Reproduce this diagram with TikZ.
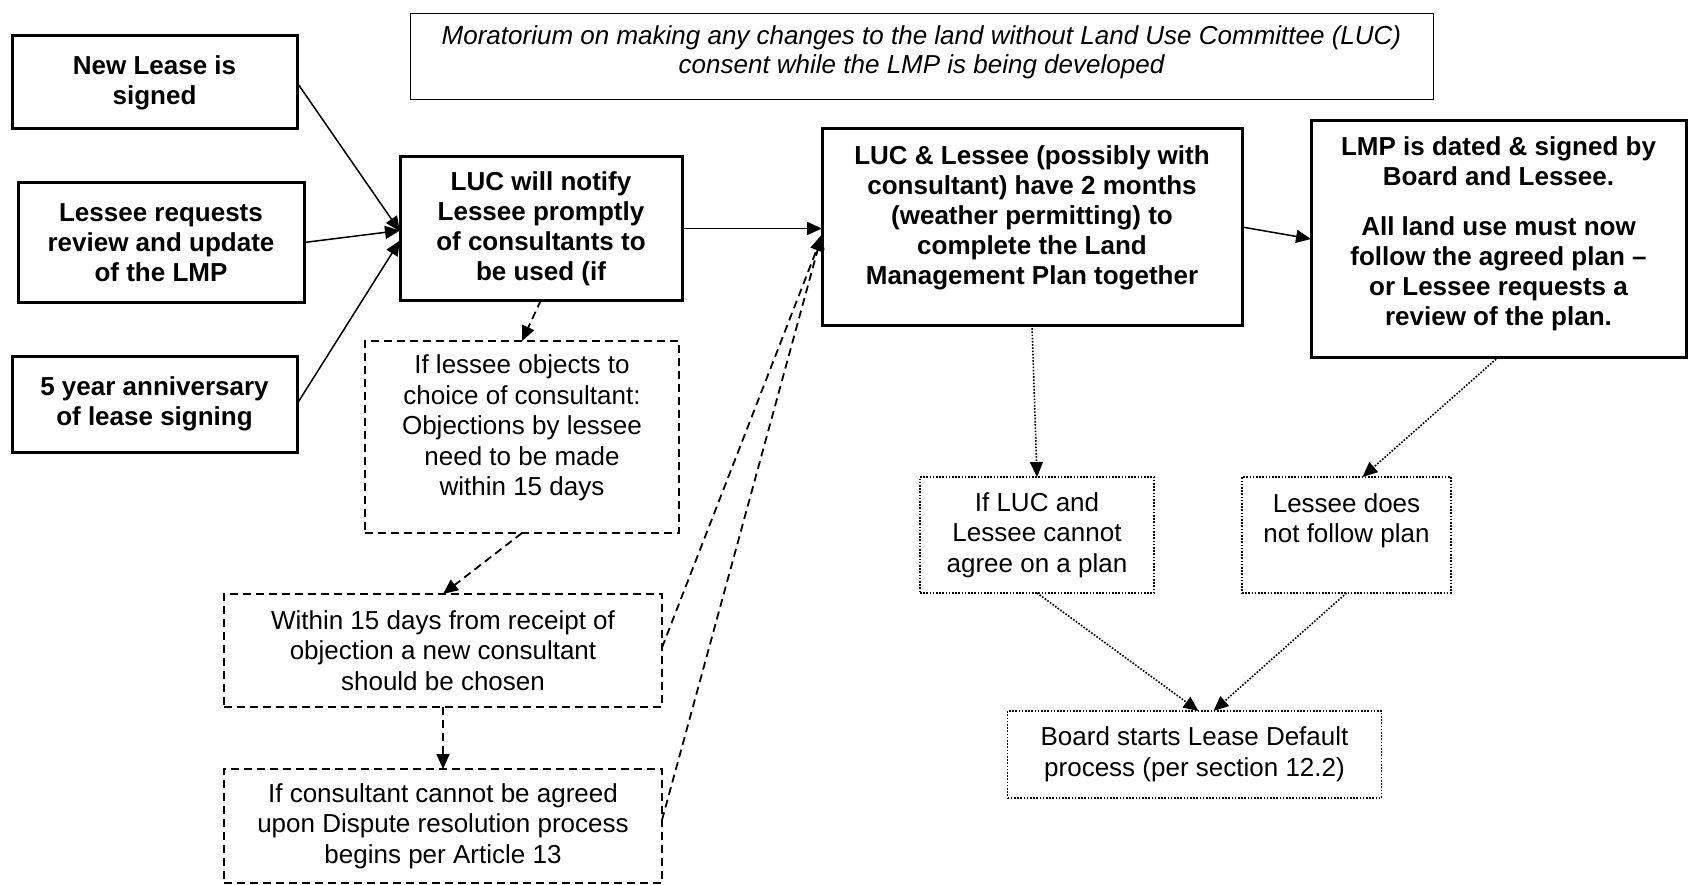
\documentclass[tikz,border=0pt]{standalone}
\usepackage{fontspec}
\setmainfont{Liberation Sans}
\usetikzlibrary{arrows.meta}
\begin{document}
\begin{tikzpicture}[x=1pt,y=-1pt,
  every node/.style={inner sep=0pt, outer sep=0pt},
  bfont/.style={font=\fontsize{26}{30}\selectfont\bfseries},
  rfont/.style={font=\fontsize{26}{30.5}\selectfont},
  tbox/.style={draw, line width=3pt, rectangle, align=center, bfont},
  dbox/.style={draw, line width=1.8pt, dash pattern=on 8pt off 5pt, rectangle, align=center, rfont},
  obox/.style={draw, line width=1.6pt, dash pattern=on 1.6pt off 1.6pt, rectangle, align=center, rfont},
  mbox/.style={draw, line width=1pt, rectangle, align=center, font=\fontsize{26}{29}\selectfont\itshape},
  txt/.style={align=center},
  tip/.style={-{Triangle[length=15pt,width=13pt]}},
  sarrow/.style={tip, line width=1.5pt},
  darrow/.style={tip, line width=1.8pt, dash pattern=on 8pt off 5pt},
  oarrow/.style={tip, line width=1.6pt, dash pattern=on 1.6pt off 1.6pt}]
\useasboundingbox (0,0) rectangle (1688,885);

% top note
\node[mbox, minimum width=1023, minimum height=86] (mora) at (921.5,57) {};
\node[txt, font=\fontsize{26}{29}\selectfont\itshape] (moratxt) at (921.5,52)
  {Moratorium on making any changes to the land without Land Use Committee (LUC)\\consent while the LMP is being developed};

% left triggers
\node[tbox, minimum width=285, minimum height=93] (new) at (154.5,82.5) {New Lease is\\signed};
\node[tbox, minimum width=286, minimum height=119] (req) at (161,242.5) {Lessee requests\\review and update\\of the LMP};
\node[tbox, minimum width=285, minimum height=96] (five) at (154.5,404) {5 year anniversary\\of lease signing};

% notify
\node[tbox, minimum width=282, minimum height=143] (notify) at (541,228.5) {LUC will notify\\Lessee promptly\\of consultants to\\be used (if};

% dashed chain
\node[dbox, minimum width=314, minimum height=192] (obj) at (522,437) {};
\node[txt, rfont] (objtxt) at (522,428) {If lessee objects to\\choice of consultant:\\Objections by lessee\\need to be made\\within 15 days};
\node[dbox, minimum width=438, minimum height=113] (newc) at (443,650.5) {Within 15 days from receipt of\\objection a new consultant\\should be chosen};
\node[dbox, minimum width=438, minimum height=114] (disp) at (443,826) {If consultant cannot be agreed\\upon Dispute resolution process\\begins per Article 13};

% LUC & Lessee
\node[tbox, minimum width=420, minimum height=196] (lucl) at (1032,227) {};
\node[txt, bfont] (lucltxt) at (1032,218) {LUC \& Lessee (possibly with\\consultant) have 2 months\\(weather permitting) to\\complete the Land\\Management Plan together};

% LMP
\node[tbox, minimum width=375, minimum height=236] (lmp) at (1498.5,239) {};
\node[txt, bfont] (lmptxt) at (1498.5,233.5) {LMP is dated \& signed by\\Board and Lessee.\\[20pt]All land use must now\\follow the agreed plan –\\or Lessee requests a\\review of the plan.};

% dotted boxes
\node[obox, minimum width=234, minimum height=116] (ifluc) at (1037,535) {If LUC and\\Lessee cannot\\agree on a plan};
\node[obox, minimum width=209, minimum height=116] (notf) at (1346.5,535) {};
\node[txt, rfont] (notftxt) at (1346.5,521) {Lessee does\\not follow plan};
\node[obox, minimum width=374, minimum height=87] (board) at (1194.5,754.5) {Board starts Lease Default\\process (per section 12.2)};

% connectors
\draw[sarrow] (new.east) -- ([yshift=-3pt]notify.west);
\draw[sarrow] (req.east) -- ([yshift=-2pt]notify.west);
\draw[sarrow] (five.east) -- ([yshift=-12pt]notify.west);
\draw[sarrow] (notify.east) -- (lucl.west |- notify.east);
\draw[darrow] (notify.south) -- (obj.north);
\draw[darrow] (obj.south) -- (newc.north);
\draw[darrow] (newc.south) -- (disp.north);
\draw[darrow] ([yshift=3pt]newc.east) -- ([yshift=-9pt]lucl.west);
\draw[darrow] ([yshift=6pt]disp.east) -- ([yshift=-7pt]lucl.west);
\draw[sarrow] (lucl.east) -- (lmp.west);
\draw[oarrow] (lucl.south) -- (ifluc.north);
\draw[oarrow] (lmp.south) -- ([xshift=16pt]notf.north);
\draw[oarrow] (ifluc.south) -- ([xshift=4pt]board.north);
\draw[oarrow] (notf.south) -- ([xshift=19pt]board.north);
\end{tikzpicture}
\end{document}
